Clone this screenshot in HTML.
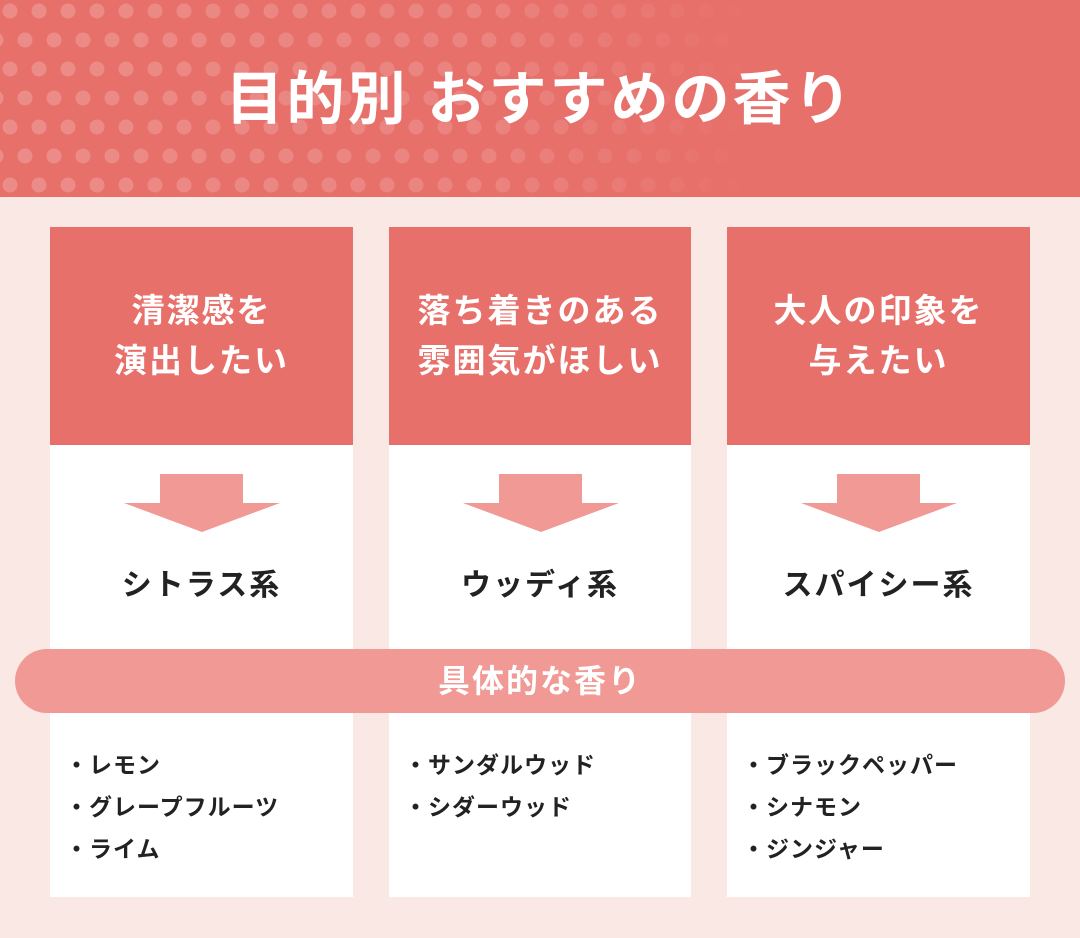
<!DOCTYPE html>
<html><head><meta charset="utf-8"><style>
body{margin:0;width:1080px;height:938px;background:#f9e8e3;position:relative;overflow:hidden;font-family:"Liberation Sans","Noto Sans CJK JP",sans-serif;font-weight:bold}
.hdr{position:absolute;left:0;top:0;width:1080px;height:197px;background:#e8706b}
.title{position:absolute;left:0;width:1080px;top:62px;text-align:center;color:#fff;font-size:58px;line-height:76px;letter-spacing:3px}
.col{position:absolute;top:227px;width:303px;height:670px;background:#fff}
.top{position:absolute;left:0;top:0;width:100%;height:218px;background:#e8706b;color:#fff;font-size:33px;line-height:50px;text-align:center;display:flex;align-items:center;justify-content:center;letter-spacing:2px}
.arrow{position:absolute;left:74px;top:247px}
.cat{position:absolute;left:0;width:100%;top:333px;text-align:center;font-size:30px;color:#222;letter-spacing:2px}
.list{position:absolute;left:15px;top:517px;font-size:23px;line-height:42px;color:#222;letter-spacing:1px}
.pill{position:absolute;left:15px;top:649px;width:1050px;height:64px;border-radius:32px;background:#f09995;color:#fff;font-size:32px;line-height:64px;text-align:center;letter-spacing:2px}
</style></head><body>
<div class="hdr">
<svg width="1080" height="197" style="position:absolute;left:0;top:0">
<defs>
<pattern id="p" width="29" height="58" patternUnits="userSpaceOnUse" x="10" y="11">
<circle cx="0" cy="0" r="7.5" fill="#fff"/><circle cx="29" cy="0" r="7.5" fill="#fff"/><circle cx="0" cy="58" r="7.5" fill="#fff"/><circle cx="29" cy="58" r="7.5" fill="#fff"/><circle cx="15" cy="29" r="7.5" fill="#fff"/>
</pattern>
<linearGradient id="g" x1="0" x2="1" y1="0" y2="0"><stop offset="0" stop-color="#fff" stop-opacity="0.2"/><stop offset="0.45" stop-color="#fff" stop-opacity="0.14"/><stop offset="0.7" stop-color="#fff" stop-opacity="0"/></linearGradient>
<mask id="m"><rect width="1080" height="197" fill="url(#g)"/></mask>
</defs>
<rect width="1080" height="197" fill="url(#p)" mask="url(#m)"/>
</svg>
<div class="title">目的別 おすすめの香り</div>
</div>

<div class="col" style="left:50px"><div class="top">清潔感を<br>演出したい</div>
<svg class="arrow" width="156" height="60"><polygon points="36,0 119,0 119,29 156,29 78,58 0,29 36,29" fill="#f09995"/></svg>
<div class="cat">シトラス系</div>
<div class="list">・レモン<br>・グレープフルーツ<br>・ライム</div></div>

<div class="col" style="left:389px;width:302px"><div class="top">落ち着きのある<br>雰囲気がほしい</div>
<svg class="arrow" width="156" height="60"><polygon points="36,0 119,0 119,29 156,29 78,58 0,29 36,29" fill="#f09995"/></svg>
<div class="cat">ウッディ系</div>
<div class="list">・サンダルウッド<br>・シダーウッド</div></div>

<div class="col" style="left:727px"><div class="top">大人の印象を<br>与えたい</div>
<svg class="arrow" width="156" height="60"><polygon points="36,0 119,0 119,29 156,29 78,58 0,29 36,29" fill="#f09995"/></svg>
<div class="cat">スパイシー系</div>
<div class="list">・ブラックペッパー<br>・シナモン<br>・ジンジャー</div></div>

<div class="pill">具体的な香り</div>
</body></html>
